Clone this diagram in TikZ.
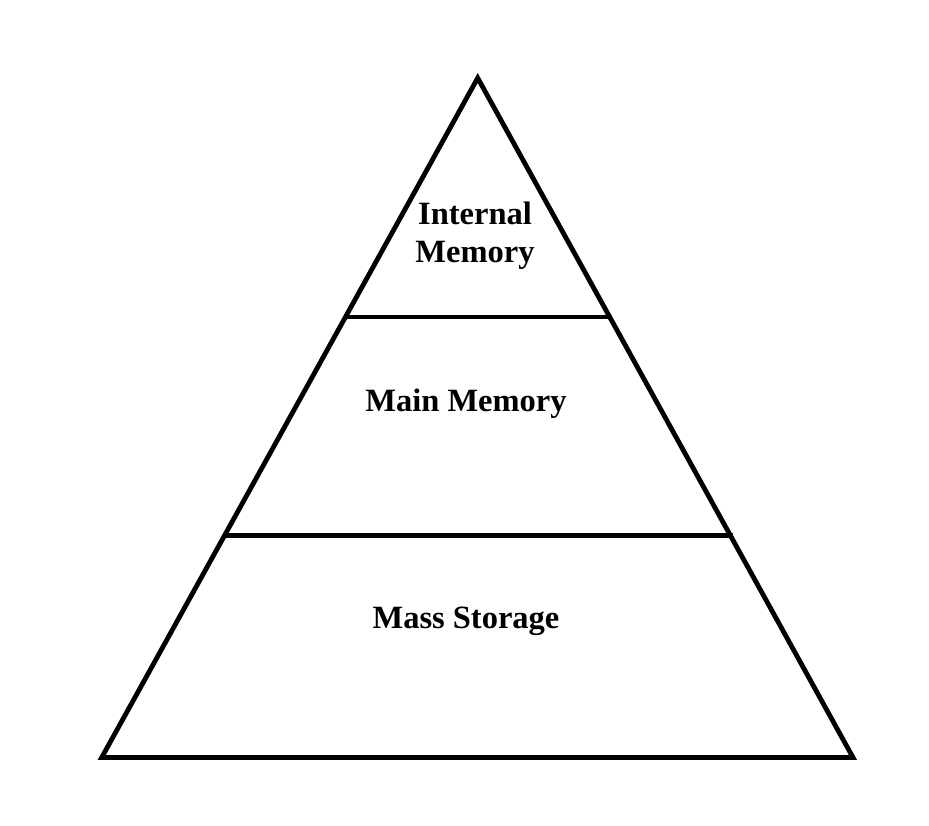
\documentclass[tikz,border=0pt]{standalone}
\usepackage{fontspec}
\setmainfont{Liberation Serif}
\begin{document}
\begin{tikzpicture}[x=1pt,y=-1pt,
  edge/.style={line width=4.8pt,black},
  lbl/.style={font=\fontsize{32.5}{38}\selectfont\bfseries,inner sep=0pt,align=center}]
\useasboundingbox (0,0) rectangle (929,825);
\coordinate (apex) at (477.7,78);
\coordinate (bl) at (101.7,757.5);
\coordinate (br) at (853,757.5);
\coordinate (l1) at (345.5,317);
\coordinate (r1) at (612,317);
\coordinate (l2) at (226,535.5);
\coordinate (r2) at (733,535.5);
\draw[edge,line join=miter] (apex) -- (br) -- (bl) -- cycle;
\draw[edge] (l1) -- (r1);
\draw[edge] (l2) -- (r2);
\node[lbl,anchor=base] (main) at (466,411) {Main Memory};
\node[lbl,anchor=base] (mass) at (466,628) {Mass Storage};
\node[lbl,anchor=center] (internal) at (475,236) {Internal\\Memory};
\end{tikzpicture}
\end{document}
